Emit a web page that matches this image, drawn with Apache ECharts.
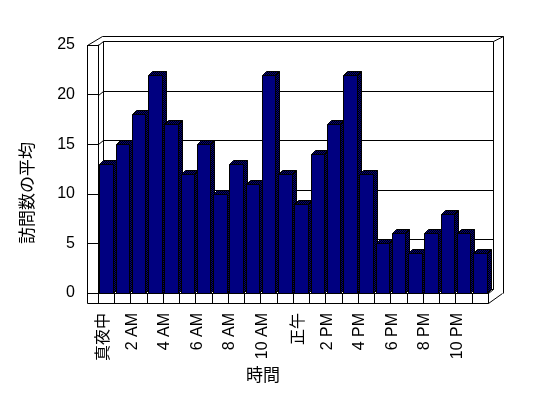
<!DOCTYPE html>
<html>
<head>
<meta charset="utf-8">
<script src="https://cdn.jsdelivr.net/npm/echarts@6/dist/echarts.min.js"></script>
<style>
  html, body { margin: 0; padding: 0; background: #fff; }
  #main { width: 548px; height: 398px; }
</style>
</head>
<body>
<div id="main"></div>
<script>
// 時間ごとの訪問数の平均
const categories = ['真夜中', '1 AM', '2 AM', '3 AM', '4 AM', '5 AM', '6 AM', '7 AM', '8 AM', '9 AM', '10 AM', '11 AM',
  '正午', '1 PM', '2 PM', '3 PM', '4 PM', '5 PM', '6 PM', '7 PM', '8 PM', '9 PM', '10 PM', '11 PM'];
const visits = [13, 15, 18, 22, 17, 12, 15, 10, 13, 11, 22, 12, 9, 14, 17, 22, 12, 5, 6, 4, 6, 8, 6, 4];
const tickLabels = ['真夜中', '2 AM', '4 AM', '6 AM', '8 AM', '10 AM', '正午', '2 PM', '4 PM', '6 PM', '8 PM', '10 PM'];
const yTicks = [0, 5, 10, 15, 20, 25];

const FONT = '"Liberation Sans", "Noto Sans CJK JP", sans-serif';

// 側面の網かけ (紺と黒の市松)
function makeDither() {
  const c = document.createElement('canvas');
  c.width = 2; c.height = 2;
  const ctx = c.getContext('2d');
  ctx.fillStyle = '#000'; ctx.fillRect(0, 0, 2, 2);
  ctx.fillStyle = '#000080'; ctx.fillRect(0, 0, 1, 1); ctx.fillRect(1, 1, 1, 1);
  return { image: c, repeat: 'repeat' };
}
const dither = makeDither();

const px = (v) => Math.round(v) + 0.5;

function line(points) {
  return {
    type: 'polyline',
    shape: { points: points.map(p => [px(p[0]), px(p[1])]) },
    style: { stroke: '#000', lineWidth: 1, fill: null },
    silent: true
  };
}

// 枠 (壁・床・目盛線・横軸ラベル)
function renderFrame(params, api) {
  const cs = params.coordSys;
  const x0 = cs.x, x1 = cs.x + cs.width;
  const yT = cs.y, yB = cs.y + cs.height;
  const wall = 11, floorH = 10;
  const d = [5, -4];      // 奥の壁
  const o = [15, -9];     // 外枠の奥行
  const xo = x0 - wall;
  const band = api.size([1, 0])[0];
  const children = [
    line([[xo, yT], [xo, yB + floorH], [x1, yB + floorH], [x1 + o[0] - 1, yB + floorH + o[1] - 1]]),
    line([[x1, yB], [x1, yB + floorH]]),
    line([[xo, yT], [x0, yT]]),
    line([[xo, yT], [xo + o[0], yT + o[1]], [x1 + o[0], yT + o[1]], [x1 + o[0], yB + floorH + o[1] - 1]]),
    line([[x0 + d[0], yT + d[1]], [x0 + d[0], yB + d[1]]]),
    line([[x1 + d[0], yT + d[1]], [x1 + d[0], yB + d[1]]]),
    line([[x1 + d[0], yT + d[1]], [x1 + o[0], yT + o[1]]]),
    line([[x1, yB], [x1 + d[0], yB + d[1]]])
  ];
  yTicks.forEach(v => {
    const y = api.coord([0, v])[1];
    children.push(line([[x0, y], [x0 + d[0], y + d[1]], [x1 + d[0], y + d[1]]]));
  });
  // 2時間ごとのラベル (区切り線の位置)
  tickLabels.forEach((t, k) => {
    const xb = api.coord([k * 2, 0])[0] - band / 2;
    const shift = /[^\x00-\x7f]/.test(t) ? 6 : 2;
    children.push({
      type: 'text',
      x: xb + shift,
      y: yB + 20,
      rotation: Math.PI / 2,
      silent: true,
      style: { text: t, font: '16px ' + FONT, fill: '#000', align: 'right', verticalAlign: 'middle' }
    });
  });
  return { type: 'group', children: children };
}

function renderBar(params, api) {
  const i = api.value(0), v = api.value(1);
  const top = api.coord([i, v]);
  const base = api.coord([i, 0]);
  const bw = api.size([1, 0])[0] * 0.82;
  const xl = px(top[0] - bw / 2), xr = px(top[0] + bw / 2);
  const yt = px(top[1]), yb = px(base[1]);
  const dx = 4, dy = -4;
  return {
    type: 'group',
    children: [
      {
        type: 'polygon',
        shape: { points: [[xr, yt], [xr + dx, yt + dy], [xr + dx, yb + dy], [xr, yb]] },
        style: { fill: dither, stroke: '#000', lineWidth: 1 }
      },
      {
        type: 'polygon',
        shape: { points: [[xl, yt], [xl + dx, yt + dy], [xr + dx, yt + dy], [xr, yt]] },
        style: { fill: dither, stroke: '#000', lineWidth: 1 }
      },
      {
        type: 'rect',
        shape: { x: xl, y: yt, width: xr - xl, height: yb - yt },
        style: { fill: '#000080', stroke: '#000', lineWidth: 1 }
      }
    ]
  };
}

const chart = echarts.init(document.getElementById('main'), null, { renderer: 'canvas' });

const option = {
  backgroundColor: '#fff',
  animation: false,
  grid: { left: 98, right: 60, top: 45, bottom: 105, outerBoundsMode: 'none' },
  xAxis: {
    type: 'category',
    data: categories,
    position: 'bottom',
    axisLine: { show: true, lineStyle: { color: '#000', width: 1 } },
    axisTick: { show: true, length: 10, interval: 0, lineStyle: { color: '#000' } },
    axisLabel: { show: false },
    splitLine: { show: false }
  },
  yAxis: {
    type: 'value',
    min: 0,
    max: 25,
    interval: 5,
    axisLine: { show: true, lineStyle: { color: '#000', width: 1 } },
    axisTick: { show: true, length: 11, lineStyle: { color: '#000' } },
    splitLine: { show: false },
    axisLabel: { margin: 23, color: '#000', fontSize: 16, fontFamily: FONT }
  },
  graphic: [
    {
      type: 'text', x: 28, y: 193, rotation: Math.PI / 2,
      style: { text: '訪問数の平均', font: '17px ' + FONT, fill: '#000', align: 'center', verticalAlign: 'middle' }
    },
    {
      type: 'text', x: 263, y: 376,
      style: { text: '時間', font: '17px ' + FONT, fill: '#000', align: 'center', verticalAlign: 'middle' }
    }
  ],
  series: [
    {
      type: 'custom',
      clip: false,
      silent: true,
      z: 1,
      data: [[0, 0]],
      renderItem: renderFrame
    },
    {
      type: 'custom',
      name: '訪問数の平均',
      clip: false,
      z: 2,
      encode: { x: 0, y: 1 },
      data: visits.map((v, i) => [i, v]),
      renderItem: renderBar
    }
  ]
};

chart.setOption(option);
</script>
</body>
</html>
